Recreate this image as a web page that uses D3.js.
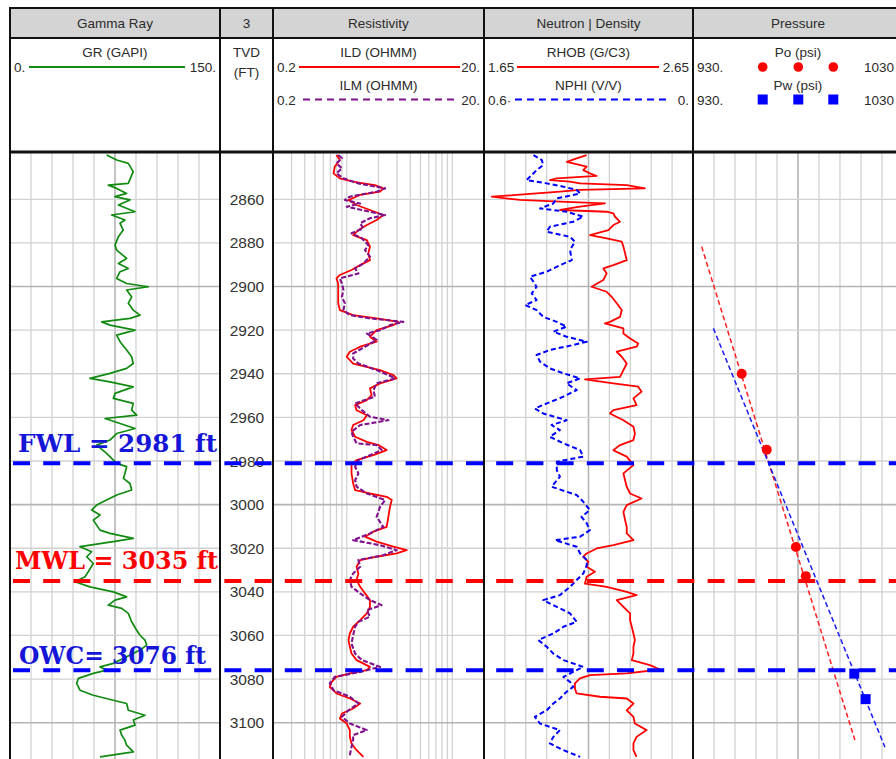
<!DOCTYPE html>
<html>
<head>
<meta charset="utf-8">
<script src="https://cdn.jsdelivr.net/npm/d3@7"></script>
<style>
  body { margin: 0; background: #fff; }
  svg { display: block; }
  text { font-family: "Liberation Sans", Arial, sans-serif; }
  text.contact { font-family: "DejaVu Serif", "Liberation Serif", serif; font-weight: bold; }
</style>
</head>
<body>
<svg id="chart" width="896" height="759"></svg>
<script>
// ---- Log data: [depth (ft), value] ----
const grData = [
  [2839.7,69],[2842.0,76.2],[2843.5,84.5],[2847.3,88],[2852.7,84.5],[2853.5,70.2],[2855.0,76.2],[2857.3,83.3],
  [2858.8,75],[2860.3,85.7],[2862.6,77.4],[2865.7,89.3],[2867.2,72.6],[2869.5,82.1],[2871.0,78.6],[2874.1,80.9],
  [2877.2,77.4],[2881.0,75],[2883.3,76.2],[2887.1,83.3],[2889.4,77.4],[2891.7,84.5],[2893.2,78.6],[2896.3,76.2],
  [2898.6,83.3],[2900.1,98.8],[2901.6,83.3],[2904.7,86.9],[2907.7,84.5],[2910.8,88],[2913.1,92.9],[2914.6,85.7],
  [2916.2,65.5],[2917.7,71.4],[2920.0,89.3],[2922.3,76.2],[2925.3,78.6],[2929.1,83.3],[2932.2,86.9],[2935.3,88],
  [2937.5,83.3],[2939.8,71.4],[2942.1,57.1],[2943.7,71.4],[2946.0,88],[2949.0,75],[2951.3,73.8],[2953.6,88],
  [2956.7,86.9],[2959.0,90.5],[2960.5,67.9],[2962.8,78.6],[2965.1,89.3],[2967.4,76.2],[2970.4,71.4],[2972.7,61.9],
  [2976.5,69],[2981.1,76.2],[2982.6,83.3],[2985.7,82.1],[2988.0,81],[2990.3,85.7],[2993.3,86.9],[2995.6,76.2],
  [2997.9,69],[3000.2,61.9],[3002.5,58.3],[3004.8,64.3],[3007.1,59.5],[3009.4,61.9],[3011.7,64.3],[3013.2,71.4],
  [3015.5,88.1],[3017.0,73.8],[3019.3,50],[3021.6,58.3],[3023.9,54.8],[3027.0,59.5],[3030.8,55.9],[3033.1,53.6],
  [3035.4,46.4],[3037.7,57.1],[3040.0,73.8],[3042.3,83.3],[3043.8,75],[3046.1,70.2],[3047.6,79.8],[3049.9,84.5],
  [3053.7,86.9],[3057.6,90.5],[3059.9,92.9],[3062.1,96.4],[3064.4,97.6],[3066.7,92.9],[3069.8,83.3],[3072.8,73.8],
  [3074.4,64.3],[3075.9,69],[3077.4,59.5],[3079.7,48.8],[3082.0,47.6],[3085.1,50],[3087.4,59.5],[3089.7,73.8],
  [3091.2,83.3],[3094.3,84.5],[3096.6,96.4],[3098.8,88.1],[3101.1,89.3],[3103.4,78.6],[3105.7,79.8],[3108.0,82.1],
  [3110.3,83.3],[3113.4,88.1],[3115.7,64.3]
];

const ildData = [
  [2839.7,0.80],[2842.0,0.86],[2845.0,0.77],[2848.1,0.75],[2850.4,0.86],[2851.9,1.15],[2852.7,1.44],[2853.5,1.85],
  [2855.0,2.22],[2856.5,2.07],[2858.0,1.34],[2860.3,1.04],[2862.6,1.24],[2864.9,1.66],[2867.2,2.22],[2869.5,1.92],
  [2871.8,1.55],[2874.1,1.29],[2876.4,1.15],[2878.7,1.55],[2881.7,1.66],[2884.8,1.60],[2887.9,1.66],[2890.2,1.34],
  [2892.4,1.11],[2894.7,0.86],[2896.3,0.80],[2898.6,0.83],[2903.1,0.83],[2907.7,0.83],[2910.8,0.86],[2913.1,1.15],
  [2914.6,1.92],[2916.2,3.08],[2917.7,2.77],[2920.0,1.92],[2923.0,1.66],[2925.3,1.92],[2927.6,1.34],[2929.9,1.07],
  [2932.2,1.00],[2935.3,1.15],[2938.3,2.07],[2940.6,2.77],[2942.1,2.97],[2944.4,2.07],[2946.7,1.66],[2949.8,1.72],
  [2952.1,1.55],[2954.4,1.20],[2956.7,1.24],[2959.0,1.55],[2961.3,1.44],[2963.5,1.15],[2965.8,1.11],[2968.9,1.20],
  [2971.2,1.55],[2972.7,2.0],[2975.0,2.39],[2977.3,1.79],[2979.6,1.24],[2981.9,1.11],[2985.7,1.11],[2990.3,1.15],
  [2993.3,1.20],[2994.9,1.66],[2996.4,2.39],[2997.9,2.67],[3001.0,2.57],[3005.6,2.48],[3010.2,2.39],[3012.4,1.79],
  [3014.7,1.49],[3017.0,1.92],[3019.3,2.77],[3020.9,3.70],[3022.4,2.97],[3023.9,1.92],[3025.4,1.34],[3028.5,1.24],
  [3031.6,1.29],[3034.6,1.24],[3037.7,1.34],[3040.7,1.49],[3043.8,1.66],[3046.9,1.66],[3049.9,1.55],[3053.0,1.34],
  [3056.0,1.15],[3059.1,1.07],[3062.1,1.04],[3065.2,1.07],[3068.3,1.11],[3071.3,1.24],[3074.4,1.66],[3075.9,1.55],
  [3077.4,1.07],[3079.0,0.80],[3081.3,0.72],[3083.6,0.69],[3086.6,0.80],[3088.9,1.07],[3091.2,1.34],[3093.5,1.15],
  [3095.8,0.90],[3098.1,0.86],[3100.4,1.00],[3103.4,1.07],[3106.5,1.07],[3109.5,1.11],[3112.6,1.24],[3115.7,1.44]
];

const ilmData = [
  [2839.7,0.83],[2841.2,0.90],[2843.5,0.80],[2845.8,0.90],[2848.1,0.80],[2850.4,0.93],[2852.7,1.29],[2855.0,2.31],
  [2856.5,1.92],[2858.8,1.07],[2860.3,0.96],[2861.9,1.34],[2863.4,1.00],[2864.9,1.39],[2867.2,2.31],[2868.7,1.66],
  [2871.0,1.34],[2873.3,1.44],[2875.6,1.11],[2877.9,1.39],[2881.0,1.60],[2883.3,1.49],[2886.3,1.66],[2889.4,1.44],
  [2891.7,1.20],[2894.0,1.29],[2896.3,0.86],[2898.6,0.90],[2901.6,0.93],[2904.7,0.90],[2907.7,0.96],[2910.8,0.93],
  [2913.1,1.07],[2914.6,1.66],[2916.2,3.44],[2917.7,2.57],[2920.0,2.07],[2921.5,1.55],[2924.5,1.92],[2927.6,1.49],
  [2930.7,1.15],[2933.0,1.15],[2935.3,1.29],[2938.3,1.92],[2940.6,2.48],[2942.1,2.87],[2944.4,1.92],[2947.5,1.79],
  [2950.5,1.85],[2953.6,1.20],[2956.7,1.39],[2959.7,1.66],[2961.3,2.48],[2963.5,1.34],[2966.6,1.11],[2968.9,1.15],
  [2971.9,1.24],[2972.7,1.92],[2975.0,2.14],[2977.3,1.66],[2979.6,1.29],[2982.6,1.20],[2985.7,1.29],[2988.8,1.20],
  [2991.8,1.24],[2994.9,1.55],[2997.9,2.31],[3001.0,2.07],[3005.6,1.92],[3010.2,2.22],[3013.2,1.66],[3016.3,1.15],
  [3018.6,2.07],[3020.9,2.97],[3023.2,2.22],[3025.4,1.29],[3028.5,1.34],[3031.6,1.15],[3034.6,1.07],[3037.7,1.11],
  [3040.7,1.34],[3043.8,1.66],[3046.1,2.14],[3048.4,1.55],[3051.4,1.66],[3053.7,1.29],[3056.0,1.20],[3059.9,1.15],
  [3063.7,1.11],[3068.3,1.20],[3071.3,1.39],[3074.4,2.07],[3076.7,1.34],[3079.0,0.77],[3082.0,0.69],[3085.1,0.75],
  [3088.1,1.07],[3091.2,1.29],[3094.3,1.04],[3097.3,0.90],[3100.4,1.07],[3103.4,1.55],[3105.7,1.15],[3108.0,1.15],
  [3111.1,1.11],[3114.9,1.07]
];

const rhobData = [
  [2839.7,2.141],[2841.2,2.093],[2842.8,2.046],[2843.5,2.077],[2845.0,2.141],[2846.6,2.125],[2848.1,2.157],[2849.3,2.189],
  [2850.4,1.998],[2851.2,1.966],[2851.9,2.061],[2852.7,2.109],[2853.5,2.333],[2855.0,2.420],[2855.7,2.109],[2856.5,2.014],
  [2858.0,1.806],[2858.8,1.687],[2860.3,1.822],[2861.1,2.014],[2861.9,2.229],[2863.4,2.109],[2864.9,2.014],[2865.7,2.237],
  [2866.5,2.269],[2868.0,2.277],[2870.3,2.301],[2871.8,2.269],[2874.1,2.245],[2876.4,2.157],[2877.9,2.237],[2879.4,2.309],
  [2881.7,2.317],[2884.8,2.325],[2887.9,2.333],[2890.2,2.269],[2891.7,2.221],[2894.0,2.237],[2897.0,2.221],[2900.1,2.165],
  [2902.4,2.237],[2904.7,2.261],[2907.7,2.285],[2910.8,2.309],[2913.9,2.301],[2916.2,2.253],[2916.9,2.229],[2919.2,2.317],
  [2921.5,2.317],[2923.8,2.349],[2926.1,2.388],[2927.6,2.380],[2929.9,2.285],[2932.2,2.309],[2935.3,2.333],[2938.3,2.317],
  [2941.4,2.301],[2942.6,2.133],[2944.4,2.269],[2945.9,2.388],[2948.2,2.404],[2951.3,2.365],[2954.4,2.380],[2956.7,2.269],
  [2958.2,2.253],[2961.3,2.317],[2964.3,2.365],[2967.4,2.372],[2970.4,2.365],[2972.7,2.301],[2975.0,2.269],[2975.8,2.285],
  [2978.0,2.333],[2981.9,2.365],[2985.7,2.317],[2988.8,2.325],[2991.8,2.333],[2994.9,2.349],[2997.2,2.404],[3000.2,2.333],
  [3003.3,2.317],[3007.1,2.325],[3010.2,2.333],[3013.2,2.333],[3016.3,2.365],[3018.6,2.269],[3020.1,2.189],[3022.4,2.141],
  [3023.9,2.125],[3026.2,2.149],[3028.5,2.141],[3030.8,2.181],[3033.1,2.141],[3036.2,2.133],[3037.7,2.237],[3040.0,2.333],
  [3041.5,2.380],[3043.8,2.285],[3046.9,2.317],[3049.9,2.349],[3053.0,2.349],[3056.0,2.357],[3059.1,2.365],[3062.1,2.372],
  [3065.2,2.365],[3068.3,2.365],[3071.3,2.357],[3073.6,2.444],[3075.6,2.492],[3077.4,2.333],[3078.2,2.157],[3079.7,2.109],
  [3082.0,2.085],[3084.3,2.085],[3086.6,2.093],[3088.1,2.205],[3088.9,2.333],[3091.2,2.365],[3094.3,2.333],[3097.3,2.365],
  [3100.4,2.372],[3103.4,2.428],[3106.5,2.380],[3109.5,2.365],[3112.6,2.365],[3115.7,2.380]
];

const nphiData = [
  [2839.7,0.458],[2842.0,0.434],[2844.3,0.430],[2846.6,0.449],[2848.9,0.463],[2851.2,0.478],[2852.7,0.420],[2854.2,0.372],
  [2855.7,0.334],[2857.3,0.324],[2859.6,0.391],[2861.9,0.401],[2864.2,0.439],[2865.7,0.363],[2868.0,0.315],[2870.3,0.344],
  [2872.6,0.411],[2874.9,0.420],[2877.2,0.353],[2879.4,0.339],[2883.3,0.353],[2887.9,0.348],[2890.2,0.382],[2893.2,0.420],
  [2895.5,0.468],[2897.8,0.458],[2900.1,0.449],[2903.1,0.463],[2906.2,0.449],[2908.5,0.482],[2910.8,0.449],[2913.9,0.430],
  [2916.2,0.391],[2918.4,0.363],[2920.7,0.401],[2923.0,0.363],[2925.3,0.305],[2926.8,0.344],[2929.1,0.411],[2931.4,0.449],
  [2934.5,0.439],[2937.5,0.411],[2939.8,0.372],[2942.1,0.324],[2944.4,0.363],[2947.5,0.334],[2950.5,0.372],[2953.6,0.420],
  [2955.9,0.454],[2958.2,0.430],[2961.3,0.363],[2963.5,0.406],[2965.8,0.382],[2968.9,0.411],[2971.9,0.372],[2975.0,0.324],
  [2978.0,0.315],[2980.3,0.391],[2984.2,0.391],[2987.2,0.382],[2991.8,0.406],[2995.6,0.334],[2998.7,0.315],[3002.5,0.296],
  [3005.6,0.320],[3008.6,0.305],[3011.7,0.296],[3014.7,0.324],[3016.3,0.396],[3019.3,0.334],[3022.4,0.324],[3025.4,0.305],
  [3027.7,0.305],[3031.6,0.315],[3034.6,0.334],[3037.7,0.353],[3041.5,0.382],[3043.8,0.430],[3046.9,0.391],[3049.9,0.353],
  [3053.7,0.334],[3056.0,0.372],[3059.1,0.401],[3062.1,0.444],[3065.2,0.420],[3068.3,0.401],[3071.3,0.372],[3074.4,0.315],
  [3076.7,0.344],[3079.0,0.372],[3081.3,0.353],[3083.6,0.344],[3085.8,0.363],[3088.9,0.382],[3091.2,0.401],[3094.3,0.420],
  [3097.3,0.454],[3100.4,0.439],[3103.4,0.382],[3106.5,0.401],[3109.5,0.411],[3112.6,0.372],[3115.7,0.324]
];

// ---- Pressure data: [depth (ft), pressure (psi)] ----
const poData = [[2940.0,953.2],[2974.8,965.1],[3019.4,979.0],[3032.8,983.7]];
const pwData = [[3077.5,1006.8],[3089.2,1012.2]];
const oilGradient = [[2881.7,934.1],[3108.0,1007.1]];
const waterGradient = [[2919.2,939.7],[3111.2,1021.4]];

// ---- Fluid contacts ----
const contactDepths = [2981, 3035, 3076];
const contactLabels = ["FWL = 2981 ft", "MWL = 3035 ft", "OWC= 3076 ft"];

// ---- Depth axis labels ----
const depthTicks = [2860, 2880, 2900, 2920, 2940, 2960, 2980, 3000, 3020, 3040, 3060, 3080, 3100];

// ---- Track titles and pressure scale labels ----
const trackTitles = ["Gamma Ray", "3", "Resistivity", "Neutron | Density", "Pressure"];
const pressScaleLabels = ["930.", "1030"];

// ================= drawing =================
const svg = d3.select("#chart");
const TOP = 8, TITLE_B = 38, HEAD_B = 152, PLOT_T = 153, PLOT_B = 759;

const tracks = {
  gr:   { x0: 10,  x1: 220 },
  dep:  { x0: 220, x1: 273 },
  res:  { x0: 273, x1: 484 },
  nd:   { x0: 484, x1: 693 },
  pres: { x0: 693, x1: 903 }
};
const order = ["gr", "dep", "res", "nd", "pres"];

const y = d3.scaleLinear().domain([2860, 3100]).range([199.3, 722.7]);
const xGR = d3.scaleLinear().domain([0, 150]).range([tracks.gr.x0, tracks.gr.x1]);
const xRes = d3.scaleLog().domain([0.2, 20]).range([tracks.res.x0, tracks.res.x1]);
const xRhob = d3.scaleLinear().domain([1.65, 2.65]).range([tracks.nd.x0, tracks.nd.x1]);
const xNphi = d3.scaleLinear().domain([0.6, 0]).range([tracks.nd.x0, tracks.nd.x1]);
const xP = d3.scaleLinear().domain([930, 1030]).range([tracks.pres.x0, tracks.pres.x1]);

svg.append("rect").attr("width", 896).attr("height", 759).attr("fill", "#fff");

// header title band
svg.append("rect").attr("x", 10).attr("y", TOP).attr("width", 900).attr("height", TITLE_B - TOP)
  .attr("fill", "#d4d4d4");

// clip paths per track
const defs = svg.append("defs");
order.forEach(k => {
  defs.append("clipPath").attr("id", "clip-" + k).append("rect")
    .attr("x", tracks[k].x0).attr("y", PLOT_T).attr("width", tracks[k].x1 - tracks[k].x0)
    .attr("height", PLOT_B - PLOT_T);
});

// ---- grid ----
const grid = svg.append("g");
function vGrid(track, xs) {
  const g = grid.append("g").attr("clip-path", `url(#clip-${track})`);
  g.selectAll("line").data(xs).join("line")
    .attr("x1", d => d.x).attr("x2", d => d.x).attr("y1", PLOT_T).attr("y2", PLOT_B)
    .attr("stroke", d => d.major ? "#b4b4b4" : "#d2d2d2")
    .attr("stroke-width", d => d.major ? 1.6 : 1.3);
}
vGrid("gr", d3.range(15, 150, 15).map(v => ({ x: xGR(v), major: v === 75 })));
const resTicks = [0.3,0.4,0.5,0.6,0.7,0.8,0.9,1,2,3,4,5,6,7,8,9,10];
vGrid("res", resTicks.map(v => ({ x: xRes(v), major: false })));
vGrid("nd", d3.range(1, 10).map(i => ({ x: xRhob(1.65 + i * 0.1), major: i === 5 })));
vGrid("pres", d3.range(940, 1030, 10).map(v => ({ x: xP(v), major: v === 980 })));

const hDepths = d3.range(2860, 3101, 20);
["gr", "res", "nd", "pres"].forEach(k => {
  grid.append("g").attr("clip-path", `url(#clip-${k})`)
    .selectAll("line").data(hDepths).join("line")
    .attr("x1", tracks[k].x0).attr("x2", tracks[k].x1)
    .attr("y1", d => y(d)).attr("y2", d => y(d))
    .attr("stroke", d => d % 100 === 0 ? "#b4b4b4" : "#d2d2d2")
    .attr("stroke-width", d => d % 100 === 0 ? 1.6 : 1.3);
});

// ---- curves ----
function curve(track, data, xs, color, width, dash) {
  const line = d3.line().x(d => xs(d[1])).y(d => y(d[0]));
  svg.append("path").datum(data).attr("clip-path", `url(#clip-${track})`)
    .attr("d", line).attr("fill", "none").attr("stroke", color)
    .attr("stroke-width", width).attr("stroke-linejoin", "round")
    .attr("stroke-dasharray", dash || null);
}
curve("gr", grData, xGR, "#118a11", 1.7);
curve("res", ildData, xRes, "#ff0000", 1.8);
curve("res", ilmData, xRes, "#80118a", 2.1, "5,2");
curve("nd", rhobData, xRhob, "#ff0000", 1.8);
curve("nd", nphiData, xNphi, "#0000ff", 2.0, "5,3");

// pressure gradients
curve("pres", oilGradient, xP, "#ff2020", 1.5, "5,3");
curve("pres", waterGradient, xP, "#1a1aff", 1.5, "5,3");

// pressure points
const pg = svg.append("g").attr("clip-path", "url(#clip-pres)");
pg.selectAll("circle").data(poData).join("circle")
  .attr("cx", d => xP(d[1])).attr("cy", d => y(d[0])).attr("r", 5).attr("fill", "#ff0000");
pg.selectAll("rect").data(pwData).join("rect")
  .attr("x", d => xP(d[1]) - 5).attr("y", d => y(d[0]) - 5)
  .attr("width", 10).attr("height", 10).attr("fill", "#0000ff");

// ---- depth labels ----
svg.append("g").selectAll("text").data(depthTicks).join("text")
  .attr("x", (tracks.dep.x0 + tracks.dep.x1) / 2 + 0.5).attr("y", d => y(d) + 5.5)
  .attr("text-anchor", "middle").attr("font-size", 15.5).attr("fill", "#333")
  .text(d => d);

// ---- header text ----
const hdr = svg.append("g").attr("font-size", 13.5).attr("fill", "#2b2b2b");
order.forEach((k, i) => {
  hdr.append("text").attr("x", (tracks[k].x0 + Math.min(tracks[k].x1, 903)) / 2).attr("y", 28)
    .attr("text-anchor", "middle").text(trackTitles[i]);
});

function legendRow(k, yName, name, yLine, leftLbl, rightLbl, color, dash, lx0, lx1) {
  const cx = (tracks[k].x0 + tracks[k].x1) / 2;
  hdr.append("text").attr("x", cx).attr("y", yName).attr("text-anchor", "middle").text(name);
  hdr.append("text").attr("x", tracks[k].x0 + 4).attr("y", yLine + 5).text(leftLbl);
  hdr.append("text").attr("x", tracks[k].x1 - 4).attr("y", yLine + 5).attr("text-anchor", "end").text(rightLbl);
  svg.append("line").attr("x1", lx0).attr("x2", lx1).attr("y1", yLine).attr("y2", yLine)
    .attr("stroke", color).attr("stroke-width", 2.2).attr("stroke-dasharray", dash || null);
}
legendRow("gr", 57, "GR (GAPI)", 67, "0.", "150.", "#118a11", null, 29, 185);
legendRow("res", 57, "ILD (OHMM)", 67, "0.2", "20.", "#ff0000", null, 299, 460);
legendRow("res", 90, "ILM (OHMM)", 99.5, "0.2", "20.", "#80118a", "7,5", 303, 458);
legendRow("nd", 57, "RHOB (G/C3)", 67, "1.65", "2.65", "#ff0000", null, 517, 659);
legendRow("nd", 90, "NPHI (V/V)", 99.5, "0.6·", "0.", "#0000ff", "7,5", 515, 670);

// TVD label
hdr.append("text").attr("x", 246.5).attr("y", 57).attr("text-anchor", "middle").text("TVD");
hdr.append("text").attr("x", 246.5).attr("y", 77).attr("text-anchor", "middle").text("(FT)");

// pressure legend
[[57, "Po (psi)", 67], [90, "Pw (psi)", 99.5]].forEach(([yn, name, yl], j) => {
  hdr.append("text").attr("x", 798).attr("y", yn).attr("text-anchor", "middle").text(name);
  hdr.append("text").attr("x", 697).attr("y", yl + 5).text(pressScaleLabels[0]);
  hdr.append("text").attr("x", 894).attr("y", yl + 5).attr("text-anchor", "end").text(pressScaleLabels[1]);
  [762.7, 798.3, 833.3].forEach(mx => {
    if (j === 0) svg.append("circle").attr("cx", mx).attr("cy", yl).attr("r", 4.8).attr("fill", "#ff0000");
    else svg.append("rect").attr("x", mx - 5).attr("y", yl - 5).attr("width", 10).attr("height", 10).attr("fill", "#0000ff");
  });
});

// ---- frame lines ----
const frame = svg.append("g").attr("stroke", "#111").attr("fill", "none");
frame.append("line").attr("x1", 9).attr("x2", 903).attr("y1", TOP).attr("y2", TOP).attr("stroke-width", 2);
frame.append("line").attr("x1", 9).attr("x2", 903).attr("y1", TITLE_B).attr("y2", TITLE_B).attr("stroke-width", 2);
frame.append("line").attr("x1", 9).attr("x2", 903).attr("y1", HEAD_B).attr("y2", HEAD_B).attr("stroke-width", 3);
[10, 220, 273, 484, 693].forEach(x => {
  frame.append("line").attr("x1", x).attr("x2", x).attr("y1", TOP).attr("y2", PLOT_B).attr("stroke-width", 2);
});

// ---- contacts ----
const contactColors = ["#0000ff", "#ff0000", "#0000ff"];
const labelColors = ["#1515d8", "#ff0000", "#1515d8"];
const labelPos = [{ x: 18, dy: -11, w: 199 }, { x: 15, dy: -12, w: 203 }, { x: 19, dy: -6, w: 187 }];
const cg = svg.append("g");
cg.selectAll("line").data(contactDepths).join("line")
  .attr("x1", 13).attr("x2", 896).attr("y1", d => y(d)).attr("y2", d => y(d))
  .attr("stroke", (d, i) => contactColors[i]).attr("stroke-width", 4)
  .attr("stroke-dasharray", "17,13.2");
cg.selectAll("text").data(contactDepths).join("text")
  .attr("class", "contact")
  .attr("x", (d, i) => labelPos[i].x).attr("y", (d, i) => y(d) + labelPos[i].dy)
  .attr("font-size", 24)
  .attr("textLength", (d, i) => labelPos[i].w).attr("lengthAdjust", "spacingAndGlyphs")
  .attr("fill", (d, i) => labelColors[i])
  .text((d, i) => contactLabels[i]);
</script>
</body>
</html>
